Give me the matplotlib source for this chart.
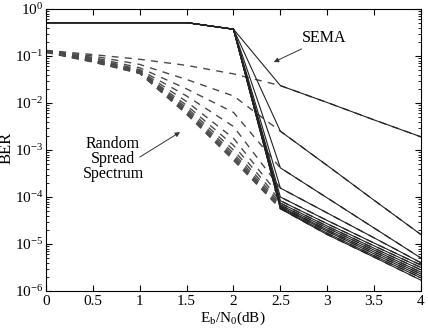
import numpy as np
import matplotlib
matplotlib.use("Agg")
import matplotlib.pyplot as plt
from matplotlib.ticker import NullFormatter, FixedLocator, FixedFormatter

plt.rcParams['font.family'] = ['Liberation Serif', 'DejaVu Serif']
plt.rcParams['mathtext.fontset'] = 'custom'
plt.rcParams['mathtext.rm'] = 'Liberation Serif'
plt.rcParams['mathtext.it'] = 'Liberation Serif:italic'

ebn0 = [0, 0.5, 1, 1.5, 2, 2.5, 3, 3.5, 4]
xtick_labels = ['0', '0.5', '1', '1.5', '2', '2.5', '3', '3.5', '4']
ytick_exps = [-6, -5, -4, -3, -2, -1, 0]

# SEMA: log10(BER) per curve (solid)
sema_head = [-0.29, -0.29, -0.29, -0.29, -0.43]
sema_tail = [
    [-1.63, -1.99, -2.36, -2.72],
    [-2.60, -3.33, -4.07, -4.80],
    [-3.38, -4.02, -4.66, -5.30],
    [-3.81, -4.34, -4.87, -5.40],
    [-4.00, -4.50, -4.98, -5.45],
    [-4.08, -4.57, -5.04, -5.50],
    [-4.13, -4.62, -5.09, -5.55],
    [-4.17, -4.66, -5.13, -5.60],
    [-4.20, -4.70, -5.17, -5.64],
    [-4.22, -4.73, -5.21, -5.68],
    [-4.24, -4.77, -5.25, -5.72],
    [-4.25, -4.80, -5.28, -5.77],
]

# Random Spread Spectrum: log10(BER) at 0..2 dB (dashed), then joins SEMA
rss_head = [
    [-0.88, -0.97, -1.07, -1.20, -1.38],
    [-0.89, -1.00, -1.18, -1.50, -1.85],
    [-0.89, -1.03, -1.25, -1.70, -2.20],
    [-0.90, -1.05, -1.29, -1.85, -2.50],
    [-0.90, -1.07, -1.31, -1.97, -2.75],
    [-0.90, -1.08, -1.33, -2.05, -2.90],
    [-0.91, -1.09, -1.34, -2.10, -3.00],
    [-0.91, -1.10, -1.35, -2.14, -3.07],
    [-0.91, -1.11, -1.36, -2.17, -3.12],
    [-0.92, -1.12, -1.36, -2.20, -3.16],
    [-0.92, -1.12, -1.37, -2.22, -3.19],
    [-0.92, -1.13, -1.37, -2.24, -3.22],
]

W, H = 428, 328
fig = plt.figure(figsize=(W / 100, H / 100), dpi=100)
ax = fig.add_axes([46 / W, 1 - 291 / H, 375 / W, 282 / H])

for h, t in zip(rss_head, sema_tail):
    ax.semilogy(ebn0, 10.0 ** np.array(h + t), linestyle=(0, (5, 4.5)),
                color='#4a4a4a', lw=1.0)
for t in sema_tail:
    ax.semilogy(ebn0, 10.0 ** np.array(sema_head + t), '-',
                color='#222222', lw=0.8)

ax.set_xlim(0, 4)
ax.set_ylim(1e-6, 1)
ax.xaxis.set_major_locator(FixedLocator(ebn0))
ax.xaxis.set_major_formatter(FixedFormatter(xtick_labels))
ax.yaxis.set_major_locator(FixedLocator([10.0 ** e for e in ytick_exps]))
ax.yaxis.set_major_formatter(FixedFormatter([r'$10^{%d}$' % e for e in ytick_exps]))
minor = [m * 10.0 ** e for e in ytick_exps[:-1] for m in range(2, 10)]
ax.yaxis.set_minor_locator(FixedLocator(minor))
ax.yaxis.set_minor_formatter(NullFormatter())
ax.tick_params(which='both', direction='in', top=True, right=True, labelsize=11)
ax.tick_params(axis='x', pad=3)
ax.tick_params(axis='y', pad=2)
ax.tick_params(which='major', length=4)
ax.tick_params(which='minor', length=2)
for s in ax.spines.values():
    s.set_linewidth(0.8)

fig.text(233 / W, 1 - 318 / H, r'$\mathregular{E_b/N_0(dB)}$', fontsize=11,
         ha='center', va='center')
fig.text(7 / W, 1 - 148 / H, 'BER', fontsize=12, rotation=90,
         ha='center', va='center')

ax.annotate('SEMA', xy=(2.43, 10 ** -1.13), xytext=(2.73, 10 ** -0.62),
            fontsize=11.5, va='center', ha='left',
            arrowprops=dict(arrowstyle='-|>', color='#333333', lw=0.7,
                            mutation_scale=7, shrinkA=0, shrinkB=0))
ax.text(0.715, 10 ** -3.19, 'Random\nSpread\nSpectrum', fontsize=11.5,
        va='center', ha='center', linespacing=0.95)
ax.annotate('', xy=(1.43, 10 ** -2.62), xytext=(1.0, 10 ** -3.15),
            arrowprops=dict(arrowstyle='-|>', color='#333333', lw=0.7,
                            mutation_scale=7, shrinkA=0, shrinkB=0))

fig.savefig('out.png', dpi=100)
